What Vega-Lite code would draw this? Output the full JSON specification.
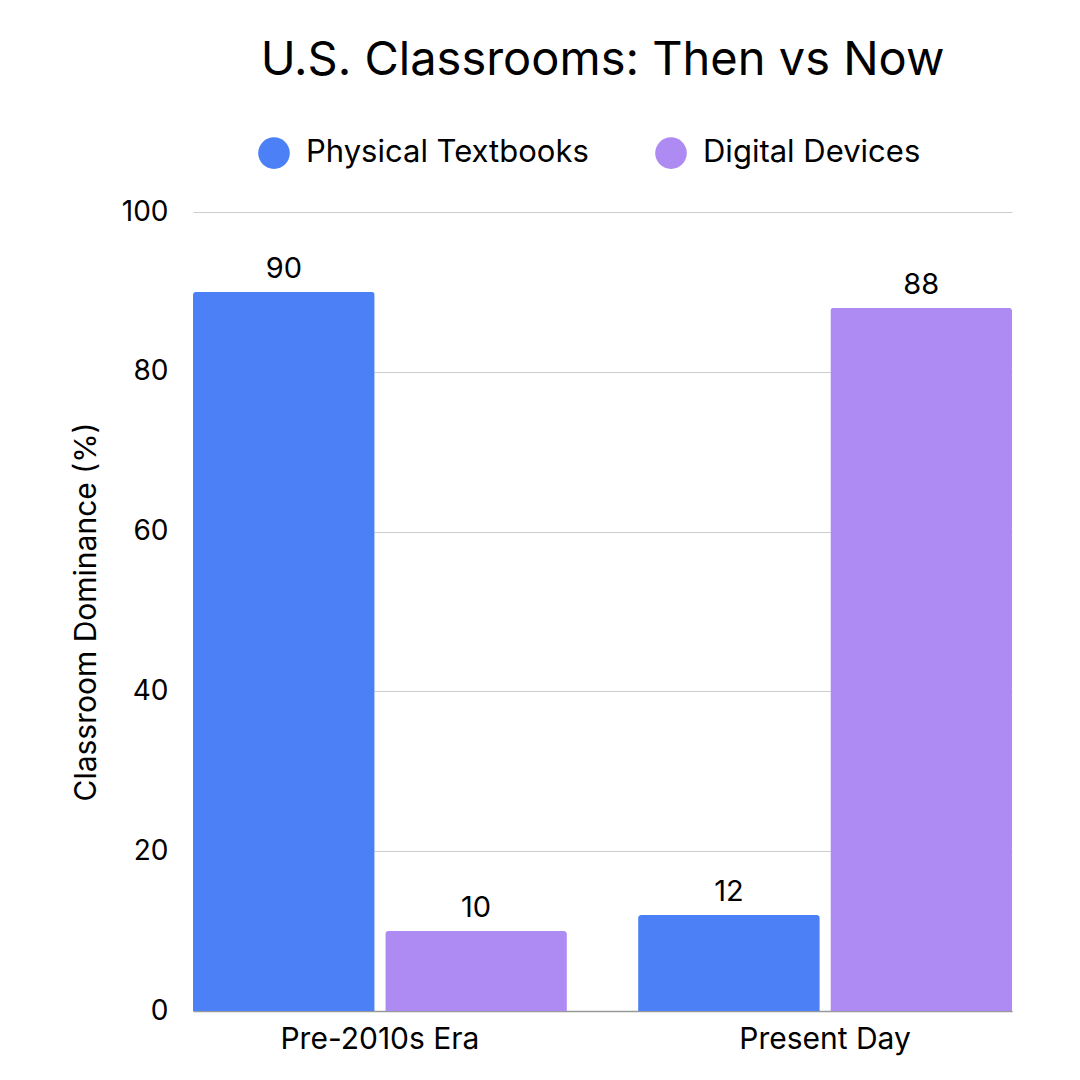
{
  "$schema": "https://vega.github.io/schema/vega-lite/v6.json",
  "width": 819,
  "height": 799,
  "autosize": {"type": "none"},
  "padding": {"left": 193, "top": 212, "right": 68, "bottom": 69},
  "background": "white",
  "title": {
    "text": "U.S. Classrooms: Then vs Now",
    "fontSize": 47,
    "font": "Inter",
    "fontWeight": "normal",
    "color": "#000000",
    "anchor": "middle",
    "offset": 52
  },
  "config": {
    "font": "Inter",
    "view": {"stroke": null}
  },
  "data": {
    "values": [
      {"era": "Pre-2010s Era", "medium": "Physical Textbooks", "pct": 90},
      {"era": "Pre-2010s Era", "medium": "Digital Devices", "pct": 10},
      {"era": "Present Day", "medium": "Physical Textbooks", "pct": 12},
      {"era": "Present Day", "medium": "Digital Devices", "pct": 88}
    ]
  },
  "encoding": {
    "x": {
      "field": "era",
      "type": "nominal",
      "sort": ["Pre-2010s Era", "Present Day"],
      "scale": {"paddingInner": 0.16, "paddingOuter": 0},
      "axis": {
        "title": null,
        "labelAngle": 0,
        "labelFontSize": 30,
        "labelLimit": 0,
        "labelColor": "#000000",
        "labelPadding": 13,
        "ticks": false,
        "domainColor": "#999999",
        "domainWidth": 1.5
      }
    },
    "xOffset": {
      "field": "medium",
      "type": "nominal",
      "sort": ["Physical Textbooks", "Digital Devices"],
      "scale": {"paddingInner": 0.055, "paddingOuter": 0}
    },
    "y": {
      "field": "pct",
      "type": "quantitative",
      "scale": {"domain": [0, 100], "nice": false},
      "axis": {
        "title": "Classroom Dominance (%)",
        "titleFontSize": 30,
        "titleFontWeight": "normal",
        "titleColor": "#000000",
        "titlePadding": 20,
        "values": [0, 20, 40, 60, 80, 100],
        "labelFontSize": 28,
        "labelColor": "#000000",
        "labelPadding": 25,
        "ticks": false,
        "domain": false,
        "gridColor": "#cccccc",
        "gridWidth": 1.2
      }
    }
  },
  "layer": [
    {
      "mark": {"type": "bar", "cornerRadiusTopLeft": 3, "cornerRadiusTopRight": 3},
      "encoding": {
        "color": {
          "field": "medium",
          "type": "nominal",
          "sort": ["Physical Textbooks", "Digital Devices"],
          "scale": {"domain": ["Physical Textbooks", "Digital Devices"], "range": ["#4b80f6", "#ae8bf3"]},
          "legend": {
            "title": null,
            "orient": "none",
            "legendX": 65,
            "legendY": -75,
            "direction": "horizontal",
            "symbolType": "circle",
            "symbolSize": 1000,
            "symbolStrokeWidth": 0,
            "labelFontSize": 31,
            "labelLimit": 500,
            "labelColor": "#000000",
            "labelOffset": 16,
            "columnPadding": 66
          }
        }
      }
    },
    {
      "mark": {"type": "text", "baseline": "bottom", "dy": -8, "fontSize": 29, "color": "#000000"},
      "encoding": {
        "text": {"field": "pct", "type": "quantitative"}
      }
    }
  ]
}
